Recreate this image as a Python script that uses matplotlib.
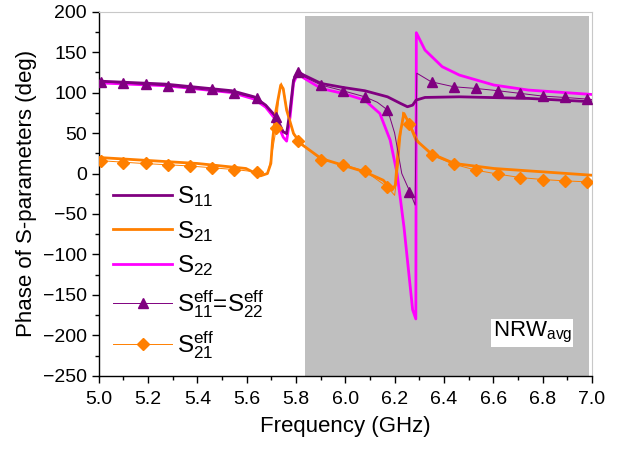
import matplotlib.pyplot as plt
from matplotlib.patches import Rectangle
from matplotlib.ticker import MultipleLocator

plt.rcParams['font.family'] = ['Liberation Sans', 'DejaVu Sans']
plt.rcParams['mathtext.fontset'] = 'custom'
plt.rcParams['mathtext.rm'] = 'Liberation Sans'
plt.rcParams['mathtext.it'] = 'Liberation Sans'

# S11 (simulated)
f_s11 = [5.0, 5.27, 5.54, 5.63, 5.677, 5.719, 5.748, 5.762, 5.776, 5.79, 5.808, 5.832,
         5.902, 5.99, 6.079, 6.171, 6.224, 6.252, 6.273, 6.287, 6.323, 6.463, 6.743, 7.0]
s11 = [114.2, 110.5, 102.3, 94.8, 84.5, 70.1, 51.5, 49.5, 78.3, 115.5, 125.8, 121.6,
       111.3, 106.4, 102.3, 94.8, 86.6, 82.5, 84.5, 90.7, 94.0, 94.8, 92.8, 88.7]

# S21
f_s21 = [5.0, 5.4, 5.597, 5.656, 5.684, 5.698, 5.705, 5.719, 5.738, 5.748, 5.762, 5.79,
         5.818, 5.902, 5.99, 6.079, 6.154, 6.189, 6.203, 6.217, 6.238, 6.262, 6.287,
         6.348, 6.442, 6.603, 7.0]
s21 = [19.8, 12.4, 6.2, -2.9, 0.0, 12.4, 41.2, 78.3, 109.3, 105.0, 78.3, 49.5,
       37.1, 18.5, 10.3, 2.0, -8.3, -20.6, -14.4, 41.2, 74.2, 59.8, 41.2,
       24.7, 12.4, 6.2, -2.1]

# S22
f_s22 = [5.0, 5.27, 5.54, 5.63, 5.677, 5.719, 5.748, 5.762, 5.776, 5.79, 5.808, 5.832,
         5.902, 5.99, 6.079, 6.14, 6.182, 6.21, 6.224, 6.238, 6.259, 6.273, 6.286,
         6.288, 6.323, 6.393, 6.463, 6.603, 6.743, 7.0]
s22 = [112.0, 108.5, 100.0, 92.0, 82.0, 66.0, 45.0, 40.0, 70.0, 112.0, 124.0, 118.0,
       105.1, 99.0, 90.7, 74.2, 41.2, 0.0, -33.0, -66.3, -127.5, -168.3, -179.7,
       174.0, 152.6, 132.0, 121.6, 109.3, 103.1, 97.7]

# effective parameters (NRW average): thin line + markers
f_eff_line = [5.0, 5.27, 5.54, 5.63, 5.68, 5.719, 5.748, 5.762, 5.776, 5.79, 5.808, 5.83,
              5.902, 5.99, 6.079, 6.13, 6.172, 6.20, 6.229, 6.262, 6.283, 6.29, 6.348,
              6.44, 6.53, 6.62, 6.71, 6.80, 6.89, 6.98, 7.0]
s11_eff_line = [113.5, 108.5, 100.0, 93.6, 84.0, 70.1, 52.0, 48.0, 76.0, 114.0, 125.8, 120.0,
                109.3, 102.3, 94.8, 88.0, 78.3, 50.0, 0.0, -22.7, -39.0, 124.0, 113.4,
                107.2, 105.1, 102.3, 99.0, 95.7, 94.0, 92.0, 91.5]

f_s21_eff_line = [5.0, 5.18, 5.36, 5.55, 5.64, 5.66, 5.685, 5.70, 5.72, 5.73, 5.74, 5.75,
                  5.765, 5.79, 5.81, 5.90, 5.99, 6.08, 6.17, 6.20, 6.215, 6.233, 6.262,
                  6.30, 6.348, 6.44, 6.53, 6.62, 6.71, 6.80, 6.89, 6.98, 7.0]
s21_eff_line = [16.0, 12.4, 9.5, 4.9, 2.0, -1.0, 0.0, 20.0, 56.0, 95.0, 112.0, 104.0,
                76.0, 48.0, 40.4, 17.3, 11.1, 2.9, -16.5, -27.0, 10.0, 76.0, 61.0,
                38.0, 22.7, 11.5, 4.1, -0.8, -5.0, -7.4, -9.1, -10.3, -10.6]

f_mark = [5.01, 5.10, 5.19, 5.28, 5.37, 5.46, 5.55, 5.64, 5.72, 5.81, 5.90, 5.99,
          6.08, 6.17, 6.26, 6.35, 6.44, 6.53, 6.62, 6.71, 6.80, 6.89, 6.98]
s11_eff_mark = [113.4, 112.2, 110.5, 108.4, 106.4, 103.9, 99.8, 93.6, 70.1, 125.8, 109.3, 102.3,
                94.8, 78.3, -22.7, 113.4, 107.2, 105.1, 102.3, 99.0, 95.7, 94.0, 92.0]
s21_eff_mark = [15.7, 13.6, 12.4, 11.1, 9.5, 7.4, 4.9, 2.0, 55.7, 40.4, 17.3, 11.1,
                2.9, -16.5, 61.0, 22.7, 11.5, 4.1, -0.8, -5.0, -7.4, -9.1, -10.3]

purple = '#800080'
orange = '#ff7f00'
magenta = '#ff00ff'

fig = plt.figure(figsize=(6.25, 4.49), dpi=100)
ax = fig.add_axes([0.158, 0.163, 0.789, 0.811])

ax.add_patch(Rectangle((5.836, -250), 6.99 - 5.836, 195 + 250,
                       facecolor='#bfbfbf', edgecolor='none', zorder=0))

h11, = ax.plot(f_s11, s11, color=purple, lw=2.0, zorder=3)
h21, = ax.plot(f_s21, s21, color=orange, lw=2.0, zorder=3)
h22, = ax.plot(f_s22, s22, color=magenta, lw=2.0, zorder=2)

l11e, = ax.plot(f_eff_line, s11_eff_line, color=purple, lw=0.7, zorder=4)
m11e, = ax.plot(f_mark, s11_eff_mark, ls='none', marker='^', ms=7, color=purple, zorder=5)
l21e, = ax.plot(f_s21_eff_line, s21_eff_line, color=orange, lw=0.7, zorder=4)
m21e, = ax.plot(f_mark, s21_eff_mark, ls='none', marker='D', ms=6, color=orange, zorder=5)

ax.set_xlim(5.0, 7.0)
ax.set_ylim(-250, 200)
ax.xaxis.set_major_locator(MultipleLocator(0.2))
ax.xaxis.set_minor_locator(MultipleLocator(0.1))
ax.yaxis.set_major_locator(MultipleLocator(50))
ax.yaxis.set_minor_locator(MultipleLocator(25))
ax.tick_params(which='major', direction='out', length=5, width=1, labelsize=14)
ax.tick_params(which='minor', direction='out', length=3, width=1)
ax.tick_params(axis='x', pad=6)
ax.set_xticklabels([f'{v:.1f}' for v in ax.get_xticks()])
for s in ['top', 'right']:
    ax.spines[s].set_color('#c8c8c8')
    ax.spines[s].set_linewidth(0.8)
for s in ['left', 'bottom']:
    ax.spines[s].set_linewidth(1.0)

ax.set_xlabel('Frequency (GHz)', fontsize=16, labelpad=6)
ax.set_ylabel('Phase of S-parameters (deg)', fontsize=16, labelpad=4)

ax.legend([h11, h21, h22, (l11e, m11e), (l21e, m21e)],
          [r'$\mathregular{S_{11}}$', r'$\mathregular{S_{21}}$', r'$\mathregular{S_{22}}$',
           r'$\mathregular{S_{11}^{eff}}$=$\mathregular{S_{22}^{eff}}$',
           r'$\mathregular{S_{21}^{eff}}$'],
          loc='lower left', bbox_to_anchor=(0.0, 0.0), frameon=False,
          fontsize=17.5, handlelength=2.4, handletextpad=0.2, labelspacing=0.4,
          borderaxespad=0.2)

ax.text(6.758, -197, r'NRW$_{\mathregular{avg}}$', fontsize=16, ha='center', va='center',
        bbox=dict(facecolor='white', edgecolor='none', pad=1.0), zorder=6)

fig.savefig('out.png', dpi=100)
